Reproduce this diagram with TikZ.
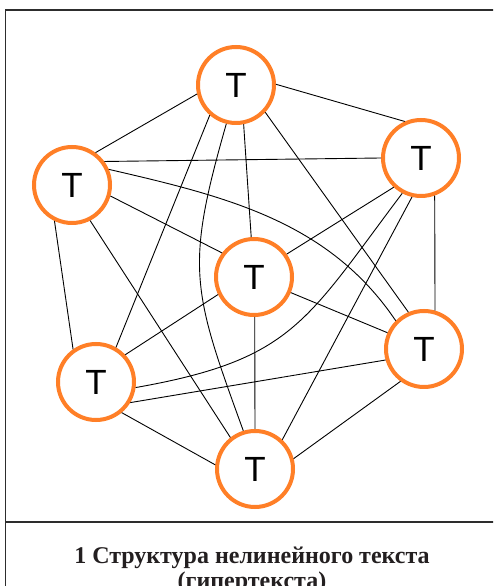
\documentclass[tikz,border=0pt]{standalone}
\usepackage{fontspec}
\setmainfont{Liberation Serif}
\newfontfamily\arialf{Liberation Sans}
\definecolor{torange}{RGB}{255,127,39}
\definecolor{framec}{RGB}{45,45,45}
\definecolor{capc}{RGB}{35,31,32}
\tikzset{
  tnode/.style={circle, draw=torange, line width=4pt, minimum size=76pt, inner sep=0pt,
    font=\arialf\fontsize{35}{35}\selectfont, text=black},
  link/.style={draw=black, line width=0.9pt},
  framel/.style={draw=framec, line width=1.4pt},
  captext/.style={font=\bfseries\fontsize{24}{24}\selectfont, text=capc, anchor=base, inner sep=0pt}
}
\begin{document}
\begin{tikzpicture}[x=1pt,y=1pt]
\useasboundingbox (0,0) rectangle (493,586);
\clip (0,0) rectangle (493,586);
\fill[white] (0,0) rectangle (493,586);
% frame
\coordinate (f1) at (5.5,-5);
\coordinate (f2) at (5.5,576);
\coordinate (f3) at (500,576);
\coordinate (d1) at (5.5,64);
\coordinate (d2) at (500,64);
\draw[framel] (f1) -- (f2) -- (f3);
\draw[framel] (d1) -- (d2);
% nodes
\node[tnode] (t)  at (236,501) {T};
\node[tnode] (l)  at (72,401)  {T};
\node[tnode] (rt) at (421,428) {T};
\node[tnode] (c)  at (254,309) {T};
\node[tnode] (lb) at (96,204)  {T};
\node[tnode] (rb) at (424,237) {T};
\node[tnode] (b)  at (255,117) {T};
% links
\draw[link] (t.193) -- (l.54);
\draw[link] (t.1) -- (rt.114);
\draw[link] (t.-79) -- (c.94);
\draw[link] (t.-43) -- (rb.113);
\draw[link] (t.229) -- (lb.60);
\draw[link] (t.256) to[out=254,in=110,distance=150pt] (b.107);
\draw[link] (l.36) -- (rt.180);
\draw[link] (l.23) to[out=-13,in=124,distance=120pt] (rb.135);
\draw[link] (l.-16) -- (c.143);
\draw[link] (l.244) -- (lb.125);
\draw[link] (l.-63) -- (b.128);
\draw[link] (rt.227) -- (c.35);
\draw[link] (rt.242) to[out=233,in=10,distance=160pt] (lb.-8);
\draw[link] (rt.257) -- (b.47);
\draw[link] (rt.-70) -- (rb.74);
\draw[link] (c.206) -- (lb.43);
\draw[link] (c.-23) -- (rb.156);
\draw[link] (c.271) -- (b.90);
\draw[link] (lb.-31) -- (rb.196);
\draw[link] (lb.-50) -- (b.174);
\draw[link] (rb.234) -- (b.15);
% caption
\node[captext] (cap1) at (252,22) {1 Структура нелинейного текста};
\node[captext] (cap2) at (252,-2) {(гипертекста)};
\end{tikzpicture}
\end{document}
